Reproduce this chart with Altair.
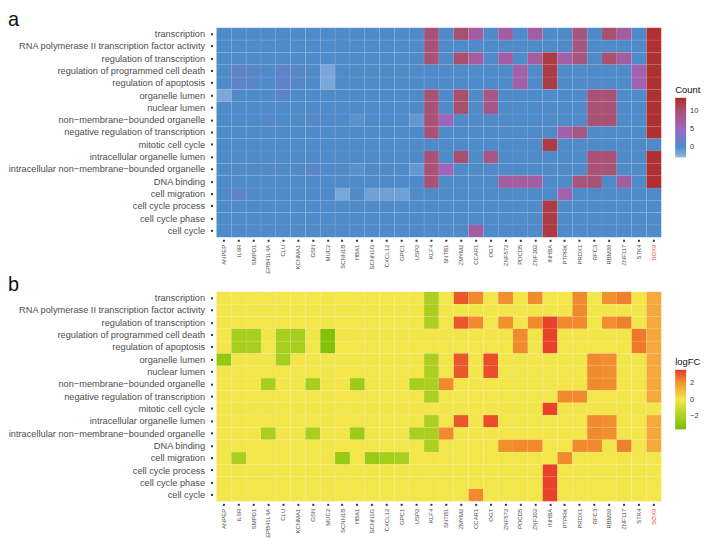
import altair as alt
import pandas as pd

genes = ["ANPEP", "IL6R", "SMPD1", "EPB41L4A", "CLU", "KCNMA1", "GSN", "MUC2",
         "SCNN1B", "HBA1", "SCNN1G", "CXCL12", "GPC1", "USP2", "KLF4", "SNTB1",
         "ZMYM2", "CCAR1", "OGT", "ZNF572", "PDCD5", "ZNF302", "INHBA", "PTPRK",
         "PRDX1", "RFC3", "RBM39", "ZNF117", "STK4", "SOX9"]

terms = ["transcription",
         "RNA polymerase II transcription factor activity",
         "regulation of transcription",
         "regulation of programmed cell death",
         "regulation of apoptosis",
         "organelle lumen",
         "nuclear lumen",
         "non\u2212membrane\u2212bounded organelle",
         "negative regulation of transcription",
         "mitotic cell cycle",
         "intracellular organelle lumen",
         "intracellular non\u2212membrane\u2212bounded organelle",
         "DNA binding",
         "cell migration",
         "cell cycle process",
         "cell cycle phase",
         "cell cycle"]

# Panel a: Count (rows = terms, columns = genes)
count_rows = [
    [0, 0, 0, 0, 0, 0, 0, 0, 0, 0, 0, 0, 0, 0, 9.5, 0, 10, 7, 0, 7, 0, 7, 0, 0, 9, 0, 10, 7, 0, 13],
    [0, 0, 0, 0, 0, 0, 0, 0, 0, 0, 0, 0, 0, 0, 9.5, 0, 0, 0, 0, 0, 0, 0, 0, 0, 9, 0, 0, 0, 0, 13],
    [0, 0, 0, 0, 0, 0, 0, 0, 0, 0, 0, 0, 0, 0, 9.5, 0, 10, 7, 0, 7, 0, 7, 12, 6.5, 9, 0, 10, 7, 0, 13],
    [0, 1, 0.5, 0, 1, 0.5, 0, -2, 0, 0, 0, 0, 0, 0, 0, 0, 0, 0, 0, 0, 6.5, 0, 12, 0, 0, 0, 0, 0, 6, 13],
    [0, 1, 0.5, 0, 1, 0.5, 0, -2, 0, 0, 0, 0, 0, 0, 0, 0, 0, 0, 0, 0, 6.5, 0, 12, 0, 0, 0, 0, 0, 6, 13],
    [-2, 0, 0, 0, 0.8, 0, 0, 0, 0, 0, 0, 0, 0, 0, 9.5, 0, 10, 0, 8.5, 0, 0, 0, 0, 0, 0, 9.5, 9.5, 0, 0, 13],
    [0, 0, 0, 0, 0, 0, 0, 0, 0, 0, 0, 0, 0, 0, 9.5, 0, 10, 0, 8.5, 0, 0, 0, 0, 0, 0, 9.5, 9.5, 0, 0, 13],
    [0, 0, 0, 0.3, 0, 0, 0.5, 0, 0, -0.5, 0, 0, 0, -1, 9.5, 5.5, 0, 0, 0, 0, 0, 0, 0, 0, 0, 9.5, 9.5, 0, 0, 13],
    [0, 0, 0, 0, 0, 0, 0, 0, 0, 0, 0, 0, 0, 0, 9.5, 0, 0, 0, 0, 0, 0, 0, 0, 6.5, 8.5, 0, 0, 0, 0, 13],
    [0, 0, 0, 0, 0, 0, 0, 0, 0, 0, 0, 0, 0, 0, 0, 0, 0, 0, 0, 0, 0, 0, 12, 0, 0, 0, 0, 0, 0, 0],
    [0, 0, 0, 0, 0, 0, 0, 0, 0, 0, 0, 0, 0, 0, 9.5, 0, 10, 0, 8.5, 0, 0, 0, 0, 0, 0, 9.5, 9.5, 0, 0, 13],
    [0, 0, 0, 0.3, 0, 0, 0.5, 0, 0, -0.5, 0, 0, 0, -1, 9.5, 5.5, 0, 0, 0, 0, 0, 0, 0, 0, 0, 9.5, 9.5, 0, 0, 13],
    [0, 0, 0, 0, 0, 0, 0, 0, 0, 0, 0, 0, 0, 0, 9.5, 0, 0, 0, 0, 7, 7, 7, 0, 0, 9, 9.5, 0, 7, 0, 13],
    [0, 1, 0, 0, 0, 0, 0, 0, -2, 0, -1.5, -1.5, -1.5, 0, 0, 0, 0, 0, 0, 0, 0, 0, 0, 6, 0, 0, 0, 0, 0, 0],
    [0, 0, 0, 0, 0, 0, 0, 0, 0, 0, 0, 0, 0, 0, 0, 0, 0, 0, 0, 0, 0, 0, 12, 0, 0, 0, 0, 0, 0, 0],
    [0, 0, 0, 0, 0, 0, 0, 0, 0, 0, 0, 0, 0, 0, 0, 0, 0, 0, 0, 0, 0, 0, 12, 0, 0, 0, 0, 0, 0, 0],
    [0, 0, 0, 0, 0, 0, 0, 0, 0, 0, 0, 0, 0, 0, 0, 0, 0, 7, 0, 0, 0, 0, 12, 0, 0, 0, 0, 0, 0, 0],
]

# Panel b: logFC
logfc_rows = [
    [0, 0, 0, 0, 0, 0, 0, 0, 0, 0, 0, 0, 0, 0, -2.1, 0, 3.2, 2.3, 0, 2.2, 0, 2.3, 0, 0, 2.3, 0, 2.2, 2.5, 0, 1.6],
    [0, 0, 0, 0, 0, 0, 0, 0, 0, 0, 0, 0, 0, 0, -2.1, 0, 0, 0, 0, 0, 0, 0, 0, 0, 2.3, 0, 0, 0, 0, 1.6],
    [0, 0, 0, 0, 0, 0, 0, 0, 0, 0, 0, 0, 0, 0, -2.1, 0, 3.2, 2.3, 0, 2.2, 0, 2.3, 3.6, 2.3, 2.3, 0, 2.2, 2.5, 0, 1.6],
    [0, -2.2, -2.2, 0, -2.2, -2.2, 0, -3.3, 0, 0, 0, 0, 0, 0, 0, 0, 0, 0, 0, 0, 2.3, 0, 3.6, 0, 0, 0, 0, 0, 2.6, 1.6],
    [0, -2.2, -2.2, 0, -2.2, -2.2, 0, -3.3, 0, 0, 0, 0, 0, 0, 0, 0, 0, 0, 0, 0, 2.3, 0, 3.6, 0, 0, 0, 0, 0, 2.6, 1.6],
    [-2.8, 0, 0, 0, -2.2, 0, 0, 0, 0, 0, 0, 0, 0, 0, -2.1, 0, 3.2, 0, 3.4, 0, 0, 0, 0, 0, 0, 2.3, 2.2, 0, 0, 1.6],
    [0, 0, 0, 0, 0, 0, 0, 0, 0, 0, 0, 0, 0, 0, -2.1, 0, 3.2, 0, 3.4, 0, 0, 0, 0, 0, 0, 2.3, 2.2, 0, 0, 1.6],
    [0, 0, 0, -2.2, 0, 0, -2.2, 0, 0, -2.5, 0, 0, 0, -2.2, -2.1, 2.3, 0, 0, 0, 0, 0, 0, 0, 0, 0, 2.3, 2.2, 0, 0, 1.6],
    [0, 0, 0, 0, 0, 0, 0, 0, 0, 0, 0, 0, 0, 0, -2.1, 0, 0, 0, 0, 0, 0, 0, 0, 2.3, 2.3, 0, 0, 0, 0, 1.6],
    [0, 0, 0, 0, 0, 0, 0, 0, 0, 0, 0, 0, 0, 0, 0, 0, 0, 0, 0, 0, 0, 0, 3.6, 0, 0, 0, 0, 0, 0, 0],
    [0, 0, 0, 0, 0, 0, 0, 0, 0, 0, 0, 0, 0, 0, -2.1, 0, 3.2, 0, 3.4, 0, 0, 0, 0, 0, 0, 2.3, 2.2, 0, 0, 1.6],
    [0, 0, 0, -2.2, 0, 0, -2.2, 0, 0, -2.5, 0, 0, 0, -2.2, -2.1, 2.3, 0, 0, 0, 0, 0, 0, 0, 0, 0, 2.3, 2.2, 0, 0, 1.6],
    [0, 0, 0, 0, 0, 0, 0, 0, 0, 0, 0, 0, 0, 0, -2.1, 0, 0, 0, 0, 2.2, 2.3, 2.3, 0, 0, 2.3, 2.3, 0, 2.5, 0, 1.6],
    [0, -2.2, 0, 0, 0, 0, 0, 0, -2.7, 0, -2.6, -2.3, -2.2, 0, 0, 0, 0, 0, 0, 0, 0, 0, 0, 2.3, 0, 0, 0, 0, 0, 0],
    [0, 0, 0, 0, 0, 0, 0, 0, 0, 0, 0, 0, 0, 0, 0, 0, 0, 0, 0, 0, 0, 0, 3.6, 0, 0, 0, 0, 0, 0, 0],
    [0, 0, 0, 0, 0, 0, 0, 0, 0, 0, 0, 0, 0, 0, 0, 0, 0, 0, 0, 0, 0, 0, 3.6, 0, 0, 0, 0, 0, 0, 0],
    [0, 0, 0, 0, 0, 0, 0, 0, 0, 0, 0, 0, 0, 0, 0, 0, 0, 2.3, 0, 0, 0, 0, 3.6, 0, 0, 0, 0, 0, 0, 0],
]

count_ticks = [0, 5, 10]
logfc_ticks = [-2, 0, 2]


def to_long(rows, name):
    recs = []
    for t, row in zip(terms, rows):
        for g, v in zip(genes, row):
            recs.append({"term": t, "gene": g, name: v})
    return pd.DataFrame(recs)


df_a = to_long(count_rows, "Count")
df_b = to_long(logfc_rows, "logFC")

FONT = "Liberation Sans"
XFONT = "Liberation Sans Narrow, Liberation Sans"
label_color_expr = "datum.value == 'SOX9' ? '#E8482C' : '#4D4D4D'"

W, H = 448, 211


def xaxis():
    return alt.Axis(title=None, labelAngle=-90, labelFontSize=6, labelFont=XFONT,
                    labelColor=alt.ExprRef(label_color_expr), tickSize=2, tickWidth=2,
                    tickColor="#333333", offset=2, labelPadding=3, domain=False,
                    grid=False)


def yaxis():
    return alt.Axis(title=None, labelFontSize=9.3, labelFont=FONT, labelColor="#4D4D4D",
                    tickSize=2, tickWidth=2, tickColor="#333333", offset=4,
                    labelPadding=6, domain=False, grid=False, labelLimit=400)


def panel(df, field, title, domain, colors, ticks, lx, ly):
    return alt.Chart(df, title=alt.TitleParams(
        text=title, anchor="start", frame="bounds", fontSize=20, fontWeight="normal",
        font=FONT, color="#111111", dx=0, offset=-3)).mark_rect(
        stroke="white", strokeWidth=0.6, strokeOpacity=0.1
    ).encode(
        x=alt.X("gene:N", sort=genes, axis=xaxis(),
                scale=alt.Scale(paddingInner=0, paddingOuter=0)),
        y=alt.Y("term:N", sort=terms, axis=yaxis(),
                scale=alt.Scale(paddingInner=0, paddingOuter=0)),
        color=alt.Color(f"{field}:Q",
                        scale=alt.Scale(domain=domain, range=colors, interpolate="rgb"),
                        legend=alt.Legend(title=field, values=ticks, orient="none",
                                          legendX=lx, legendY=ly,
                                          gradientLength=60, gradientThickness=11,
                                          titleFontSize=9.5, titleFontWeight="normal",
                                          titleFont=FONT, titleColor="#111111",
                                          titlePadding=3,
                                          labelFontSize=7.5, labelFont=FONT,
                                          labelColor="#333333", labelOffset=4,
                                          gradientStrokeWidth=0)),
    ).properties(width=W, height=H)


chart_a = panel(df_a, "Count", "a", [-3, 0, 5, 10, 13.6],
                ["#8EB5E3", "#4F8AC9", "#9E67C2", "#A8506E", "#B02A25"],
                count_ticks, W + 14, 58)
chart_b = panel(df_b, "logFC", "b", [-3.7, 0, 1.6, 2.3, 3.7],
                ["#76BE00", "#F2E64A", "#F4A93A", "#F08A2C", "#E73C28"],
                logfc_ticks, W + 14, 66)

chart = alt.vconcat(chart_a, chart_b, spacing=0).resolve_scale(
    color="independent"
).properties(
    padding={"left": 0, "top": 0, "right": 0, "bottom": 0}
).configure_view(stroke=None)

chart.save("out.html", embed_options={"renderer": "svg", "actions": False})
